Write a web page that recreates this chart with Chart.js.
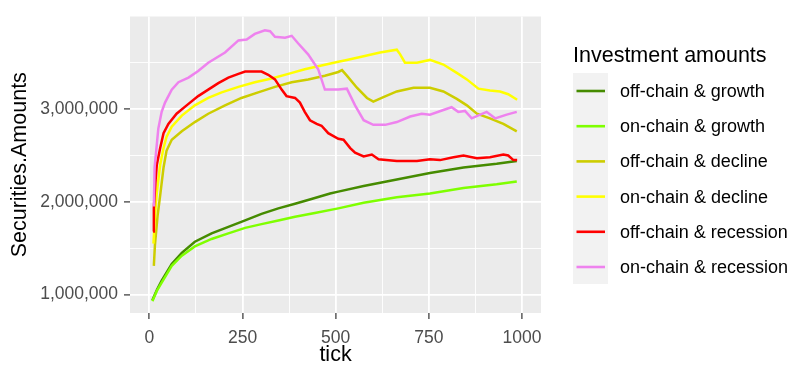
<!DOCTYPE html>
<html>
<head>
<meta charset="utf-8">
<script src="https://cdn.jsdelivr.net/npm/chart.js@4.4.1/dist/chart.umd.min.js"></script>
<style>
    body { margin: 0; background: #ffffff; }
    #wrap { width: 800px; height: 369px; }
</style>
</head>
<body>
<div id="wrap"><canvas id="securitiesChart" width="800" height="369"></canvas></div>
<script>
const UNIT = 1000000;

const SERIES_LABELS = [
    'off-chain & growth',
    'on-chain & growth',
    'off-chain & decline',
    'on-chain & decline',
    'off-chain & recession',
    'on-chain & recession'
];

const offGrowthTicks = [8, 20, 33, 60, 87, 122, 167, 212, 257, 301, 346, 391, 435, 485, 507, 575, 664, 753, 843, 932, 986];
const offGrowthValues = [0.94, 1.05, 1.15, 1.33, 1.45, 1.57, 1.66, 1.73, 1.80, 1.87, 1.93, 1.98, 2.03, 2.09, 2.11, 2.17, 2.24, 2.31, 2.37, 2.41, 2.44];

const onGrowthTicks = [8, 20, 33, 60, 87, 122, 167, 212, 257, 301, 346, 391, 444, 507, 575, 664, 753, 843, 932, 986];
const onGrowthValues = [0.93, 1.04, 1.13, 1.31, 1.42, 1.52, 1.60, 1.66, 1.72, 1.76, 1.80, 1.84, 1.88, 1.93, 1.99, 2.05, 2.09, 2.15, 2.19, 2.22];

const offDeclineTicks = [12, 15, 22, 29, 38, 46, 60, 87, 122, 158, 203, 247, 292, 337, 382, 426, 471, 507, 517, 530, 557, 584, 601, 628, 664, 709, 753, 789, 825, 852, 879, 914, 950, 986];
const offDeclineValues = [1.31, 1.54, 1.85, 2.07, 2.37, 2.55, 2.67, 2.76, 2.86, 2.95, 3.04, 3.12, 3.18, 3.24, 3.29, 3.32, 3.36, 3.40, 3.42, 3.36, 3.23, 3.12, 3.08, 3.13, 3.19, 3.23, 3.23, 3.19, 3.11, 3.04, 2.95, 2.90, 2.84, 2.76];

const onDeclineTicks = [11, 15, 20, 29, 38, 46, 60, 87, 122, 158, 194, 239, 283, 328, 373, 417, 462, 507, 530, 575, 619, 664, 673, 686, 718, 753, 789, 825, 852, 883, 914, 941, 963, 987];
const onDeclineValues = [1.55, 1.85, 2.10, 2.40, 2.58, 2.70, 2.81, 2.93, 3.04, 3.12, 3.18, 3.24, 3.29, 3.33, 3.38, 3.43, 3.47, 3.51, 3.53, 3.57, 3.61, 3.64, 3.59, 3.50, 3.50, 3.53, 3.48, 3.39, 3.32, 3.22, 3.20, 3.19, 3.16, 3.10];

const offRecessionTicks = [10, 12, 16, 20, 29, 38, 51, 73, 100, 131, 158, 185, 212, 239, 257, 301, 319, 337, 355, 368, 391, 404, 417, 431, 449, 462, 480, 507, 521, 539, 552, 575, 597, 615, 664, 718, 753, 780, 816, 843, 879, 914, 950, 963, 977, 987];
const offRecessionValues = [1.68, 1.93, 2.20, 2.40, 2.58, 2.74, 2.84, 2.95, 3.04, 3.14, 3.21, 3.28, 3.34, 3.38, 3.405, 3.405, 3.37, 3.32, 3.21, 3.14, 3.12, 3.07, 2.97, 2.88, 2.84, 2.82, 2.74, 2.68, 2.67, 2.58, 2.53, 2.49, 2.51, 2.46, 2.44, 2.44, 2.46, 2.45, 2.48, 2.50, 2.47, 2.48, 2.51, 2.50, 2.45, 2.45];

const onRecessionTicks = [12, 14, 24, 33, 42, 60, 78, 105, 131, 158, 203, 239, 261, 283, 310, 324, 337, 364, 382, 399, 426, 453, 471, 507, 530, 552, 575, 601, 633, 664, 700, 731, 753, 789, 811, 829, 847, 865, 905, 928, 959, 986];
const onRecessionValues = [1.95, 2.37, 2.79, 2.97, 3.07, 3.21, 3.29, 3.34, 3.41, 3.50, 3.61, 3.74, 3.75, 3.81, 3.85, 3.84, 3.78, 3.77, 3.79, 3.71, 3.59, 3.43, 3.21, 3.21, 3.22, 3.04, 2.88, 2.83, 2.83, 2.86, 2.92, 2.95, 2.94, 2.99, 3.02, 2.97, 2.98, 2.90, 2.97, 2.90, 2.94, 2.97];

// Axis ticks (major ones get labels, minor ones only gridlines)
const X_MAJOR = [0, 250, 500, 750, 1000];
const X_MINOR = [125, 375, 625, 875];
const Y_MAJOR = [1000000, 2000000, 3000000];
const Y_MINOR = [1500000, 2500000, 3500000];

// ggplot-like colours
const SERIES_COLORS = ['#458B00', '#7FFF00', '#CDCD00', '#FFFF00', '#FF0000', '#EE82EE'];

const SERIES_TICKS = [offGrowthTicks, onGrowthTicks, offDeclineTicks, onDeclineTicks, offRecessionTicks, onRecessionTicks];
const SERIES_VALUES = [offGrowthValues, onGrowthValues, offDeclineValues, onDeclineValues, offRecessionValues, onRecessionValues];

const FONT = '"Liberation Sans", Arial, sans-serif';

// Build the datasets
const datasets = SERIES_LABELS.map(function(label, i) {
    return {
        label: label,
        data: SERIES_TICKS[i].map(function(t, j) {
            return { x: t, y: SERIES_VALUES[i][j] * UNIT };
        }),
        borderColor: SERIES_COLORS[i],
        backgroundColor: SERIES_COLORS[i],
        borderWidth: 2.5,
        pointRadius: 0,
        tension: 0,
        fill: false,
        order: SERIES_LABELS.length - i
    };
});

// Grey panel behind the grid
const panelBackground = {
    id: 'panelBackground',
    beforeDraw: function(chart) {
        const a = chart.chartArea;
        const ctx = chart.ctx;
        ctx.save();
        ctx.fillStyle = '#EBEBEB';
        ctx.fillRect(a.left, a.top, a.right - a.left, a.bottom - a.top);
        ctx.restore();
    }
};

// Legend drawn like ggplot's, on the right
const sideLegend = {
    id: 'sideLegend',
    afterDraw: function(chart) {
        const ctx = chart.ctx;
        const left = 573;
        const firstY = 91;
        const step = 35.2;
        ctx.save();
        ctx.fillStyle = '#000000';
        ctx.font = '21.5px ' + FONT;
        ctx.textBaseline = 'alphabetic';
        ctx.textAlign = 'left';
        ctx.fillText('Investment amounts', left, 62);

        ctx.fillStyle = '#F2F2F2';
        ctx.fillRect(left, 73, 35, 211);

        chart.data.datasets.forEach(function(ds, i) {
            const y = firstY + i * step;
            ctx.strokeStyle = ds.borderColor;
            ctx.lineWidth = 2.6;
            ctx.beginPath();
            ctx.moveTo(left + 3.5, y);
            ctx.lineTo(left + 32, y);
            ctx.stroke();
            ctx.fillStyle = '#000000';
            ctx.font = '18px ' + FONT;
            ctx.textBaseline = 'middle';
            ctx.fillText(ds.label, 620, y + 1);
        });
        ctx.restore();
    }
};

const ctx = document.getElementById('securitiesChart');
new Chart(ctx, {
    type: 'line',
    data: { datasets: datasets },
    options: {
        responsive: false,
        animation: false,
        layout: {
            padding: { top: 11, right: 259, left: 0, bottom: 0 }
        },
        plugins: {
            legend: { display: false },
            tooltip: { enabled: false }
        },
        scales: {
            x: {
                type: 'linear',
                min: -52,
                max: 1051,
                afterFit: function(scale) { scale.height = 56; },
                afterBuildTicks: function(scale) {
                    scale.ticks = X_MAJOR.concat(X_MINOR).sort(function(a, b) { return a - b; })
                        .map(function(v) { return { value: v }; });
                },
                border: { display: false },
                grid: {
                    color: '#FFFFFF',
                    lineWidth: function(c) { return X_MAJOR.indexOf(c.tick.value) >= 0 ? 1.8 : 0.9; },
                    tickColor: function(c) { return X_MAJOR.indexOf(c.tick.value) >= 0 ? '#333333' : 'rgba(0,0,0,0)'; },
                    tickLength: 6,
                    tickWidth: 1.2
                },
                ticks: {
                    autoSkip: false,
                    maxRotation: 0,
                    padding: 9,
                    color: '#4D4D4D',
                    font: { family: FONT, size: 17.5 },
                    callback: function(v) { return X_MAJOR.indexOf(v) >= 0 ? String(v) : ''; }
                },
                title: {
                    display: true,
                    text: 'tick',
                    color: '#000000',
                    font: { family: FONT, size: 21.5 },
                    padding: { top: 0, bottom: 1 }
                }
            },
            y: {
                type: 'linear',
                min: 802000,
                max: 3998000,
                afterFit: function(scale) { scale.width = 130; },
                afterBuildTicks: function(scale) {
                    scale.ticks = Y_MAJOR.concat(Y_MINOR).sort(function(a, b) { return a - b; })
                        .map(function(v) { return { value: v }; });
                },
                border: { display: false },
                grid: {
                    color: '#FFFFFF',
                    lineWidth: function(c) { return Y_MAJOR.indexOf(c.tick.value) >= 0 ? 1.8 : 0.9; },
                    tickColor: function(c) { return Y_MAJOR.indexOf(c.tick.value) >= 0 ? '#333333' : 'rgba(0,0,0,0)'; },
                    tickLength: 6,
                    tickWidth: 1.2
                },
                ticks: {
                    autoSkip: false,
                    padding: 6,
                    color: '#4D4D4D',
                    font: { family: FONT, size: 17.5 },
                    callback: function(v) { return Y_MAJOR.indexOf(v) >= 0 ? v.toLocaleString('en-US') : ''; }
                },
                title: {
                    display: true,
                    text: 'Securities.Amounts',
                    color: '#000000',
                    font: { family: FONT, size: 21.5 },
                    padding: { top: 7, bottom: 0 }
                }
            }
        }
    },
    plugins: [panelBackground, sideLegend]
});
</script>
</body>
</html>
